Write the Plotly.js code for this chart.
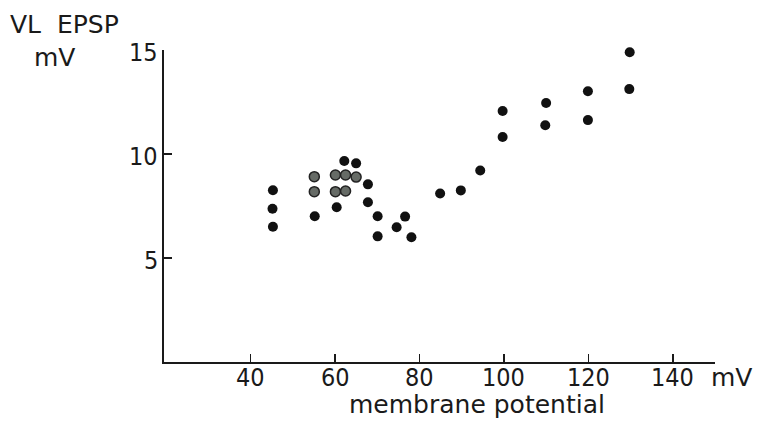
<!DOCTYPE html>
<html>
<head>
<meta charset="utf-8">
<script src="https://cdn.plot.ly/plotly-3.0.1.min.js"></script>
<style>
  html, body { margin: 0; padding: 0; background: #ffffff; }
  #chart { width: 767px; height: 421px; }
</style>
</head>
<body>
<div id="chart"></div>
<script>
// Membrane potential (mV) and VL EPSP amplitude (mV), dark dots
const potentialDark = [45.3, 45.2, 45.3, 55.2, 60.4, 62.2, 65.0, 67.8, 67.8, 70.1, 70.1, 74.6, 76.6, 78.1, 84.9, 89.8, 94.4, 99.7, 99.7, 110.0, 109.8, 119.9, 119.9, 129.8, 129.7];
const epspDark      = [8.26, 7.37, 6.50, 7.01, 7.44, 9.66, 9.55, 8.54, 7.68, 7.01, 6.04, 6.48, 6.99, 6.00, 8.10, 8.25, 9.21, 12.07, 10.82, 12.45, 11.38, 13.02, 11.63, 14.89, 13.12];
// lighter (grey) dots in the cluster
const potentialGrey = [55.1, 55.1, 60.1, 62.5, 60.1, 62.5, 65.0];
const epspGrey      = [8.91, 8.19, 8.99, 8.99, 8.19, 8.22, 8.89];

const xTicks = [40, 60, 80, 100, 120, 140];
const yTicks = [5, 10, 15];

const FONT = 'DejaVu Sans, sans-serif';
const NUMFONT = 'DejaVu Sans Condensed, Liberation Sans Narrow, DejaVu Sans, sans-serif';
const INK = '#1a1a1a';

const L = 164, R = 52, T = 50, B = 59;
const W = 767, H = 421;
const pw = W - L - R, ph = H - T - B;
const px = p => (p - L) / pw;
const py = p => (H - B - p) / ph;

const traces = [
  {
    x: potentialDark, y: epspDark, type: 'scatter', mode: 'markers', cliponaxis: false,
    marker: { size: 10, color: '#111111', line: { width: 0 } },
    hoverinfo: 'x+y', showlegend: false
  },
  {
    x: potentialGrey, y: epspGrey, type: 'scatter', mode: 'markers', cliponaxis: false,
    marker: { size: 10, color: '#666b66', line: { width: 1.5, color: '#222222' } },
    hoverinfo: 'x+y', showlegend: false
  }
];

const tickAnnX = xTicks.map(v => ({
  text: String(v), xref: 'x', yref: 'paper', x: v, y: py(377.5),
  xanchor: 'center', yanchor: 'middle', showarrow: false,
  font: { family: NUMFONT, size: 25, color: INK }
}));
const tickAnnY = yTicks.map(v => ({
  text: String(v), xref: 'paper', yref: 'y', x: px(160), y: v - 0.1,
  xanchor: 'right', yanchor: 'middle', showarrow: false,
  font: { family: NUMFONT, size: 25, color: INK }
}));

const layout = {
  width: W, height: H,
  margin: { l: L, r: R, t: T, b: B, pad: 0 },
  paper_bgcolor: '#ffffff', plot_bgcolor: '#ffffff',
  font: { family: FONT, size: 25, color: INK },
  showlegend: false,
  xaxis: {
    range: [19.5, 150], tickvals: xTicks, showticklabels: false,
    showgrid: false, zeroline: false, showline: true, linecolor: INK, linewidth: 2,
    ticks: 'inside', ticklen: 8, tickwidth: 1.5, tickcolor: INK, fixedrange: true
  },
  yaxis: {
    range: [0, 15], tickvals: yTicks, showticklabels: false,
    showgrid: false, zeroline: false, showline: true, linecolor: INK, linewidth: 2,
    ticks: 'inside', ticklen: 8, tickwidth: 1.5, tickcolor: INK, fixedrange: true
  },
  annotations: [
    ...tickAnnX, ...tickAnnY,
    { text: 'VL\u00a0\u00a0EPSP', xref: 'paper', yref: 'paper', x: px(8), y: py(24),
      xanchor: 'left', yanchor: 'middle', showarrow: false,
      font: { family: FONT, size: 25, color: INK } },
    { text: 'mV', xref: 'paper', yref: 'paper', x: px(32), y: py(57),
      xanchor: 'left', yanchor: 'middle', showarrow: false,
      font: { family: FONT, size: 25, color: INK } },
    { text: 'mV', xref: 'paper', yref: 'paper', x: px(709), y: py(377.5),
      xanchor: 'left', yanchor: 'middle', showarrow: false,
      font: { family: FONT, size: 25, color: INK } },
    { text: 'membrane potential', xref: 'paper', yref: 'paper', x: px(477), y: py(404),
      xanchor: 'center', yanchor: 'middle', showarrow: false,
      font: { family: FONT, size: 25, color: INK } }
  ]
};

Plotly.newPlot('chart', traces, layout, { displayModeBar: false, staticPlot: true });
</script>
</body>
</html>
